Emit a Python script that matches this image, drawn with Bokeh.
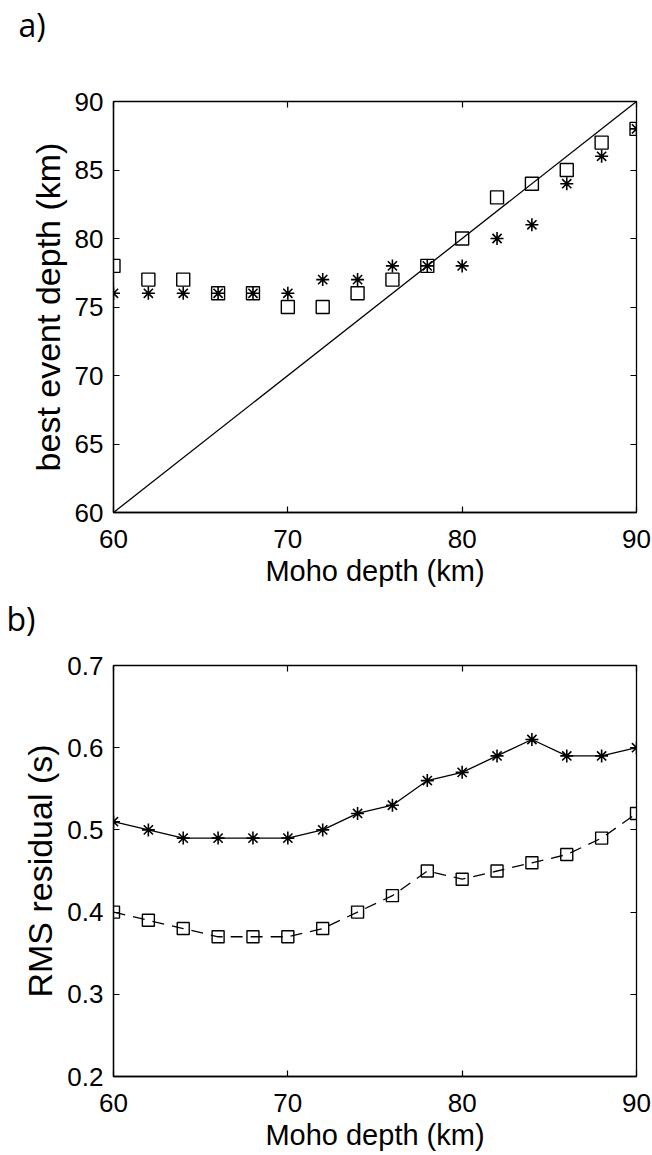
from bokeh.plotting import figure
from bokeh.layouts import column
from bokeh.models import Range1d, LinearAxis, FixedTicker, Title, CustomJSTickFormatter
from bokeh.embed import file_html
from bokeh.resources import INLINE

# ---- data ----
moho = [60, 62, 64, 66, 68, 70, 72, 74, 76, 78, 80, 82, 84, 86, 88, 90]
best_depth_square = [78, 77, 77, 76, 76, 75, 75, 76, 77, 78, 80, 83, 84, 85, 87, 88]
best_depth_star = [76, 76, 76, 76, 76, 76, 77, 77, 78, 78, 78, 80, 81, 84, 86, 88]
rms_star = [0.51, 0.50, 0.49, 0.49, 0.49, 0.49, 0.50, 0.52, 0.53, 0.56, 0.57, 0.59, 0.61, 0.59, 0.59, 0.60]
rms_square = [0.40, 0.39, 0.38, 0.37, 0.37, 0.37, 0.38, 0.40, 0.42, 0.45, 0.44, 0.45, 0.46, 0.47, 0.49, 0.52]
x_ticks = [60, 70, 80, 90]
y1_ticks = [60, 65, 70, 75, 80, 85, 90]
y2_ticks = [0.2, 0.3, 0.4, 0.5, 0.6, 0.7]
one_to_one = [moho[0], moho[-1]]
panel_labels = ["a)", "b)"]

FONT = "Liberation Sans"
TICK_FS = "26px"
XLAB_FS = "29px"
YLAB_FS = "34px"
W = 652


def header(text, height, offset, standoff):
    h = figure(width=W, height=height,
               x_range=Range1d(0, 1), y_range=Range1d(0, 1),
               x_axis_type=None, y_axis_type=None,
               min_border_left=113, min_border_right=16, min_border_top=0, min_border_bottom=0,
               output_backend="svg", toolbar_location=None,
               background_fill_color="white", border_fill_color="white")
    h.outline_line_color = None
    h.grid.visible = False
    h.add_layout(Title(text=text, align="left", offset=offset, standoff=standoff,
                       vertical_align="top",
                       text_font="Open Sans", text_font_size="32px",
                       text_font_style="normal", text_color="black"), "above")
    return h


def style(p, xticks, yticks, xlabel, ylabel):
    p.grid.visible = False
    p.outline_line_color = "black"
    p.outline_line_width = 1.3
    for ax in (p.xaxis[0], p.yaxis[0]):
        ax.axis_line_color = "black"
        ax.axis_line_width = 1.3
        ax.major_tick_in = 6
        ax.major_tick_out = 0
        ax.major_tick_line_color = "black"
        ax.major_tick_line_width = 1.2
        ax.minor_tick_line_color = None
        ax.major_label_text_font = FONT
        ax.major_label_text_font_size = TICK_FS
        ax.major_label_text_color = "black"
        ax.axis_label_text_font = FONT
        ax.axis_label_text_font_style = "normal"
        ax.axis_label_text_color = "black"
    p.xaxis[0].ticker = FixedTicker(ticks=xticks)
    p.yaxis[0].ticker = FixedTicker(ticks=yticks)
    p.xaxis[0].axis_label = xlabel
    p.yaxis[0].axis_label = ylabel
    p.xaxis[0].axis_label_text_font_size = XLAB_FS
    p.yaxis[0].axis_label_text_font_size = YLAB_FS
    p.xaxis[0].major_label_standoff = 17
    p.yaxis[0].major_label_standoff = 10
    p.xaxis[0].axis_label_standoff = 4
    p.yaxis[0].axis_label_standoff = 5
    blank = CustomJSTickFormatter(code="return ''")
    top = LinearAxis(ticker=FixedTicker(ticks=xticks), formatter=blank)
    right = LinearAxis(ticker=FixedTicker(ticks=yticks), formatter=blank)
    for ax in (top, right):
        ax.axis_line_color = None
        ax.major_tick_in = 6
        ax.major_tick_out = 0
        ax.major_tick_line_color = "black"
        ax.major_tick_line_width = 1.2
        ax.minor_tick_line_color = None
        ax.major_label_standoff = 0
        ax.major_label_text_font_size = "1px"
    p.add_layout(top, "above")
    p.add_layout(right, "right")


# ---- panel a ----
hdr_a = header(panel_labels[0], 50, -95, 4)
p1 = figure(frame_width=523, frame_height=411, width=W, height=546,
            min_border_left=113, min_border_right=16, min_border_top=51, min_border_bottom=84,
            x_range=Range1d(60, 90), y_range=Range1d(60, 90),
            output_backend="svg", toolbar_location=None, background_fill_color="white",
            border_fill_color="white")
style(p1, x_ticks, y1_ticks, "Moho depth (km)", "best event depth (km)")
p1.line(one_to_one, one_to_one, line_color="black", line_width=1.3)
p1.scatter(moho, best_depth_square, marker="square", size=13, fill_color=None,
           line_color="black", line_width=1.4)
p1.scatter(moho, best_depth_star, marker="asterisk", size=13, line_color="black", line_width=1.6)

# ---- panel b ----
hdr_b = header(panel_labels[1], 50, -107, 0)
p2 = figure(frame_width=523, frame_height=411, width=W, height=509,
            min_border_left=113, min_border_right=16, min_border_top=19, min_border_bottom=79,
            x_range=Range1d(60, 90), y_range=Range1d(0.2, 0.7),
            output_backend="svg", toolbar_location=None, background_fill_color="white",
            border_fill_color="white")
style(p2, x_ticks, y2_ticks, "Moho depth (km)", "RMS residual (s)")
p2.line(moho, rms_star, line_color="black", line_width=1.3)
p2.scatter(moho, rms_star, marker="asterisk", size=13, line_color="black", line_width=1.6)
p2.line(moho, rms_square, line_color="black", line_width=1.3, line_dash="12 8")
p2.scatter(moho, rms_square, marker="square", size=12, fill_color="white",
           line_color="black", line_width=1.4, fill_alpha=0)

layout = column(hdr_a, p1, hdr_b, p2, spacing=0)
open("out.html", "w").write(file_html(layout, INLINE))
